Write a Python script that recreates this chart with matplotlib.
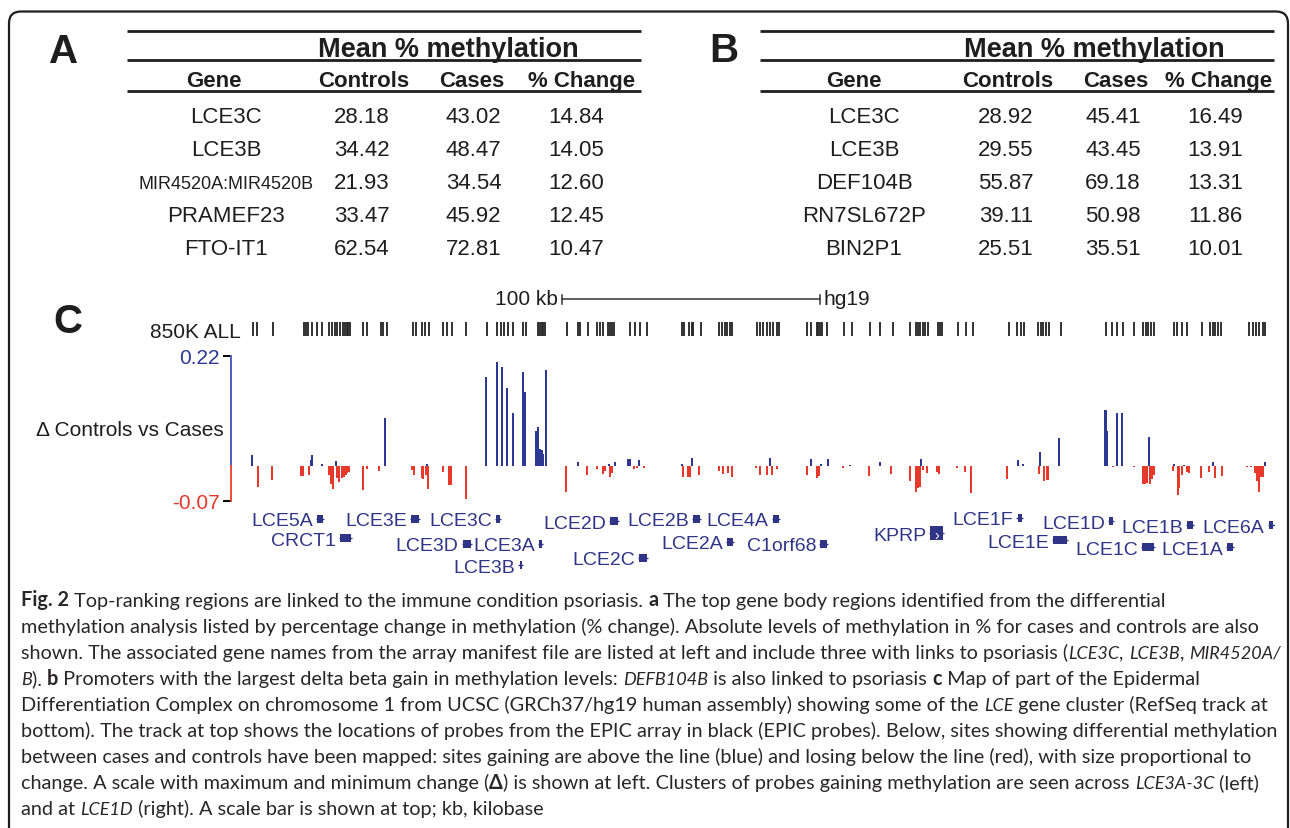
#!/usr/bin/env python3
"""Fig. 2: top-ranking methylation tables (A, B) and the LCE cluster track (C)."""

import matplotlib

matplotlib.use("Agg")
import matplotlib.pyplot as plt
from matplotlib import transforms
from matplotlib.patches import FancyBboxPatch

W, H, DPI = 1290, 829, 100

# ---------------------------------------------------------------- panel A / B
GENES_A = ["LCE3C", "LCE3B", "MIR4520A:MIR4520B", "PRAMEF23", "FTO-IT1"]
CONTROLS_A = [28.18, 34.42, 21.93, 33.47, 62.54]
CASES_A = [43.02, 48.47, 34.54, 45.92, 72.81]
CHANGE_A = [14.84, 14.05, 12.60, 12.45, 10.47]

GENES_B = ["LCE3C", "LCE3B", "DEF104B", "RN7SL672P", "BIN2P1"]
CONTROLS_B = [28.92, 29.55, 55.87, 39.11, 25.51]
CASES_B = [45.41, 43.45, 69.18, 50.98, 35.51]
CHANGE_B = [16.49, 13.91, 13.31, 11.86, 10.01]

HEADERS = ["Gene", "Controls", "Cases", "% Change"]

# ---------------------------------------------------------------- panel C (kb from left edge of window)
PROBES_KB = [
    8.4, 10.2, 16.4, 28.3, 29.0, 29.9, 31.2, 33.4, 35.1, 38.1, 39.0, 40.3, 41.2, 42.2, 43.5,
    44.1, 44.8, 45.4, 46.1, 51.2, 52.5, 58.0, 59.0, 60.3, 70.3, 71.6, 73.8, 75.1, 76.8, 82.2,
    83.5, 85.4, 91.0, 99.2, 103.1, 104.4, 105.7, 107.4, 109.3, 112.9, 114.2, 119.0, 119.6,
    120.3, 120.9, 121.6, 130.2, 134.5, 135.1, 138.3, 141.8, 142.9, 144.1, 146.1, 146.7, 147.4,
    148.3, 154.5, 156.4, 158.3, 160.9, 174.5, 175.4, 177.4, 178.4, 179.0, 181.8, 189.0, 190.0,
    191.3, 192.1, 193.2, 194.1, 203.8, 204.8, 206.1, 207.4, 208.7, 209.7, 211.5, 212.2, 222.9,
    224.4, 226.7, 227.4, 228.0, 228.7, 230.9, 237.3, 240.3, 247.4, 251.3, 256.2, 262.9, 265.1,
    266.1, 266.7, 267.8, 268.7, 270.0, 273.8, 274.5, 275.2, 281.6, 284.6, 287.1, 301.3, 304.4,
    305.7, 307.0, 312.5, 313.5, 314.5, 315.5, 316.8, 321.2, 338.8, 341.0, 342.9, 345.2, 349.6,
    353.2, 354.2, 355.1, 356.1, 357.3, 365.1, 366.4, 368.1, 370.0, 375.8, 379.0, 380.1, 381.0,
    382.2, 383.2, 394.2, 395.6, 396.8, 398.1, 399.4, 400.3,
]

GAIN_KB = [
    8.0, 30.8, 31.5, 35.1, 40.7, 59.6, 75.8, 98.7, 103.1, 104.9, 107.0, 109.2, 112.9, 113.8,
    118.2, 119.0, 119.6, 120.3, 120.9, 121.8, 134.5, 146.2, 148.6, 153.8, 154.5, 158.1, 174.5,
    178.5, 208.7, 224.5, 228.4, 231.0, 239.6, 251.3, 267.0, 304.8, 306.7, 313.2, 320.7, 338.4,
    338.9, 339.3, 342.9, 344.8, 355.3, 365.2, 369.0, 380.3, 400.3,
]
GAIN_DELTA = [
    0.022, 0.012, 0.022, 0.003, 0.010, 0.096, 0.003, 0.177, 0.207, 0.198, 0.156, 0.105, 0.187,
    0.148, 0.069, 0.078, 0.034, 0.031, 0.024, 0.192, 0.008, 0.004, 0.008, 0.014, 0.014, 0.012,
    0.004, 0.016, 0.016, 0.013, 0.004, 0.013, 0.002, 0.007, 0.014, 0.012, 0.003, 0.027, 0.055,
    0.111, 0.111, 0.070, 0.106, 0.106, 0.058, 0.003, 0.002, 0.007, 0.007,
]

LOSS_KB = [
    10.5, 16.0, 27.1, 27.9, 30.2, 37.9, 38.6, 39.4, 40.9, 41.9, 42.9, 43.7, 44.4, 45.0, 45.8,
    51.0, 52.5, 57.4, 70.0, 70.8, 73.8, 74.4, 75.5, 76.4, 82.2, 84.4, 85.2, 91.0, 129.7, 137.7,
    141.8, 143.9, 144.8, 146.7, 147.4, 156.0, 157.1, 159.9, 175.1, 177.0, 177.7, 181.3, 189.0,
    190.6, 192.5, 193.8, 203.3, 204.8, 207.6, 209.3, 211.5, 222.9, 226.7, 227.6, 236.8, 247.0,
    255.6, 262.9, 265.1, 265.9, 266.7, 268.0, 269.3, 273.2, 274.1, 281.2, 284.2, 286.4, 300.5,
    312.7, 314.9, 315.8, 316.4, 341.4, 349.6, 353.0, 353.9, 354.5, 355.8, 356.5, 357.3, 364.8,
    366.5, 367.1, 368.1, 370.0, 370.9, 375.4, 378.6, 381.0, 383.5, 393.5, 394.8, 396.4, 397.3,
    398.0, 398.6, 399.4,
]
LOSS_DELTA = [
    -0.042, -0.029, -0.021, -0.021, -0.018, -0.019, -0.036, -0.047, -0.024, -0.033, -0.024,
    -0.023, -0.018, -0.015, -0.013, -0.049, -0.006, -0.011, -0.009, -0.019, -0.025, -0.027,
    -0.018, -0.046, -0.012, -0.038, -0.039, -0.066, -0.053, -0.018, -0.006, -0.017, -0.010,
    -0.023, -0.015, -0.007, -0.005, -0.004, -0.023, -0.023, -0.023, -0.019, -0.011, -0.017,
    -0.015, -0.023, -0.004, -0.019, -0.019, -0.018, -0.006, -0.019, -0.024, -0.021, -0.004,
    -0.020, -0.017, -0.030, -0.052, -0.045, -0.042, -0.009, -0.015, -0.013, -0.017, -0.004,
    -0.013, -0.055, -0.027, -0.017, -0.030, -0.028, -0.028, -0.003, -0.003, -0.036, -0.036,
    -0.035, -0.036, -0.027, -0.019, -0.011, -0.058, -0.045, -0.018, -0.013, -0.015, -0.024,
    -0.013, -0.024, -0.021, -0.003, -0.003, -0.015, -0.030, -0.052, -0.022, -0.022,
]

GENE_NAMES = [
    "LCE5A", "CRCT1", "LCE3E", "LCE3D", "LCE3C", "LCE3B", "LCE3A", "LCE2D", "LCE2C", "LCE2B",
    "LCE2A", "LCE4A", "C1orf68", "KPRP", "LCE1F", "LCE1E", "LCE1D", "LCE1C", "LCE1B", "LCE1A",
    "LCE6A",
]
GENE_START = [
    33.3, 42.2, 69.7, 89.7, 102.6, 111.7, 119.4, 146.7, 158.0, 178.9, 192.0, 209.8, 228.2,
    270.8, 304.5, 318.2, 339.9, 352.7, 370.1, 385.6, 401.7,
]
GENE_END = [
    35.7, 46.3, 72.8, 92.9, 104.1, 112.7, 120.5, 149.8, 161.0, 181.6, 194.4, 212.2, 230.6,
    275.6, 306.1, 323.6, 341.4, 357.5, 372.4, 388.0, 403.6,
]
GENE_ROW = [
    -0.1, 0.83, -0.1, 1.12, -0.1, 2.15, 1.12, 0.0, 1.8, -0.1, 1.02, -0.1, 1.12, 0.59, -0.15,
    0.93, 0.0, 1.27, 0.2, 1.27, 0.2,
]

SCALE_BAR_KB = (128.0, 228.0)

CAPTION = [
    [("Fig. 2", "b"), (" Top-ranking regions are linked to the immune condition psoriasis. ", ""),
     ("a", "b"), (" The top gene body regions identified from the differential", "")],
    [("methylation analysis listed by percentage change in methylation (% change). Absolute levels "
      "of methylation in % for cases and controls are also", "")],
    [("shown. The associated gene names from the array manifest file are listed at left and include "
      "three with links to psoriasis (", ""), ("LCE3C", "i"), (", ", ""), ("LCE3B", "i"), (", ", ""),
     ("MIR4520A/", "i")],
    [("B", "i"), ("). ", ""), ("b", "b"),
     (" Promoters with the largest delta beta gain in methylation levels: ", ""), ("DEFB104B", "i"),
     (" is also linked to psoriasis ", ""), ("c", "b"), (" Map of part of the Epidermal", "")],
    [("Differentiation Complex on chromosome 1 from UCSC (GRCh37/hg19 human assembly) showing some "
      "of the ", ""), ("LCE", "i"), (" gene cluster (RefSeq track at", "")],
    [("bottom). The track at top shows the locations of probes from the EPIC array in black (EPIC "
      "probes). Below, sites showing differential methylation", "")],
    [("between cases and controls have been mapped: sites gaining are above the line (blue) and "
      "losing below the line (red), with size proportional to", "")],
    [("change. A scale with maximum and minimum change (", ""), ("\u0394", "b"),
     (") is shown at left. Clusters of probes gaining methylation are seen across ", ""),
     ("LCE3A-3C", "i"), (" (left)", "")],
    [("and at ", ""), ("LCE1D", "i"), (" (right). A scale bar is shown at top; kb, kilobase", "")],
]

BLUE = "#2c3894"
RED = "#e6392b"
NAVY = "#2f3486"
INK = "#1e1e1e"
CAPTION_INK = "#2a2526"


def _draw_table(bg, x0, x1, title_x, hdr_x, val_x, genes, controls, cases, change):
    for y in (32, 61, 92):
        bg.plot([x0, x1], [y, y], color=INK, lw=2.0, solid_capstyle="butt")
    bg.text(title_x, 57, "Mean % methylation", ha="center", va="baseline",
            fontsize=19.5, fontweight="bold", color=INK)
    for x, lab in zip(hdr_x, HEADERS):
        bg.text(x, 87, lab, ha="center", va="baseline", fontsize=16, fontweight="bold", color=INK)
    for i, row in enumerate(zip(genes, controls, cases, change)):
        y = 122.7 + 33.1 * i
        gene = row[0]
        bg.text(val_x[0], y, gene, ha="center", va="baseline",
                fontsize=13 if len(gene) > 12 else 16, color=INK)
        for x, v in zip(val_x[1:], row[1:]):
            bg.text(x, y, f"{v:.2f}", ha="center", va="baseline", fontsize=16, color=INK)


def _text_width(fig, renderer, s, **kw):
    t = fig.text(0, 0, "|" + s + "|", **kw)
    w = t.get_window_extent(renderer).width
    t.set_text("||")
    w -= t.get_window_extent(renderer).width
    t.remove()
    return w


def _caption_kw(style, size):
    kw = dict(family=["Lato", "DejaVu Sans"], fontsize=size, color=CAPTION_INK)
    if style == "b":
        kw["fontweight"] = "bold"
    elif style == "i":
        # Lato italic runs wider than the journal face; pull it in a little
        kw["fontstyle"] = "italic"
        kw["fontsize"] = size * 0.91
    return kw


def _draw_caption(fig, bg):
    renderer = fig.canvas.get_renderer()
    # size the caption so the longest line fills the column, as in the journal layout
    ref = sum(_text_width(fig, renderer, s, **_caption_kw(st, 10)) for s, st in CAPTION[1])
    size = 10 * 1239 / ref
    for i, segs in enumerate(CAPTION):
        x = 21.0
        y = 606.5 + 26.1 * i
        for s, st in segs:
            kw = _caption_kw(st, size)
            bg.text(x, y, s, ha="left", va="baseline", **kw)
            x += _text_width(fig, renderer, s, **kw)


def main():
    plt.rcParams["font.family"] = ["Liberation Sans", "DejaVu Sans"]
    fig = plt.figure(figsize=(W / DPI, H / DPI), dpi=DPI)

    bg = fig.add_axes([0, 0, 1, 1])
    bg.set_xlim(0, W)
    bg.set_ylim(H, 0)
    bg.axis("off")
    bg.add_patch(FancyBboxPatch((9, 12.5), 1279, 900, boxstyle="round,pad=0,rounding_size=12",
                                fill=False, ec=INK, lw=1.6))

    # ---- tables
    for lab, x, y in (("A", 64, 63), ("B", 723.5, 62), ("C", 67.5, 333)):
        bg.text(x, y, lab, ha="center", va="baseline", fontsize=29, fontweight="bold", color=INK)
    _draw_table(bg, 127, 641, 448, (214, 363.6, 472, 581.5), (226, 362, 473.5, 576),
                GENES_A, CONTROLS_A, CASES_A, CHANGE_A)
    _draw_table(bg, 760, 1274, 1094, (854, 1008, 1116, 1218.5), (864, 1006, 1113, 1215),
                GENES_B, CONTROLS_B, CASES_B, CHANGE_B)

    # ---- track C
    left, right = 231, 1275
    kb_px = 2.583
    xlim = (0, (right - left) / kb_px)
    fx, fw = left / W, (right - left) / W

    ax = fig.add_axes([fx, 1 - 501.7 / H, fw, 145 / H])
    ax.set_xlim(*xlim)
    ax.set_ylim(-0.07, 0.22)
    ax.bar(GAIN_KB, GAIN_DELTA, width=0.75, color=BLUE, linewidth=0)
    ax.bar(LOSS_KB, LOSS_DELTA, width=0.75, color=RED, linewidth=0)
    for s in ax.spines.values():
        s.set_visible(False)
    ax.set_xticks([])
    ax.set_yticks([-0.07, 0.22])
    ax.set_yticklabels(["-0.07", "0.22"])
    ax.tick_params(axis="y", length=6, width=1.4, pad=2, labelsize=15)
    for tick, c in zip(ax.yaxis.get_major_ticks(), (RED, BLUE)):
        tick.tick1line.set_color(c)
        tick.label1.set_color(c)
    ax.plot([0, 0], [0, 0.22], color="#4d5fc0", lw=1.4, clip_on=False)
    ax.plot([0, 0], [-0.07, 0], color="#ee4b39", lw=1.4, clip_on=False)
    ax.patch.set_alpha(0)

    axp = fig.add_axes([fx, 1 - 337 / H, fw, 14 / H])
    axp.set_xlim(*xlim)
    axp.set_ylim(0, 1)
    axp.vlines(PROBES_KB, 0, 1, color="#222222", lw=1.3)
    axp.axis("off")

    axg = fig.add_axes([fx, 1 - 575 / H, fw, 65.3 / H])
    axg.set_xlim(*xlim)
    axg.set_ylim(2.585, -0.6)
    axg.axis("off")
    widths = [e - s for s, e in zip(GENE_START, GENE_END)]
    heights = [0.72 if n == "KPRP" else 0.4 for n in GENE_NAMES]
    # thin gene line under the thick exon blocks
    axg.hlines(GENE_ROW, [s - 0.4 for s in GENE_START], [e + 0.4 for e in GENE_END],
               color=NAVY, lw=1.0)
    axg.barh(GENE_ROW, widths, left=GENE_START, height=heights, color=NAVY, linewidth=0)
    for name, s, e, r in zip(GENE_NAMES, GENE_START, GENE_END, GENE_ROW):
        axg.annotate(name, (s, r), xytext=(-3, 0), textcoords="offset points",
                     ha="right", va="center_baseline", fontsize=14, color=NAVY)
        if name == "KPRP":
            axg.text((s + e) / 2, r, "\u203a", ha="center", va="center_baseline",
                     fontsize=10, color="white")

    blend = transforms.blended_transform_factory(ax.transData, bg.transData)
    x0, x1 = SCALE_BAR_KB
    bg.plot([x0, x1], [300, 300], color="#333333", lw=1.1, transform=blend, clip_on=False)
    for xe in (x0, x1):
        bg.plot([xe, xe], [295.5, 304.5], color="#333333", lw=1.1, transform=blend, clip_on=False)
    bg.text(x0 - 1.5, 305, "100 kb", ha="right", va="baseline", fontsize=15, color=INK,
            transform=blend)
    bg.text(x1 + 1.5, 305, "hg19", ha="left", va="baseline", fontsize=15, color=INK,
            transform=blend)

    bg.text(241, 338.3, "850K ALL", ha="right", va="baseline", fontsize=15, color=INK)
    bg.text(224, 428, "\u0394 Controls vs Cases", ha="right", va="center_baseline",
            fontsize=15, color=INK)

    _draw_caption(fig, bg)
    fig.savefig("out.png", dpi=DPI)
    plt.close(fig)


if __name__ == "__main__":
    main()
